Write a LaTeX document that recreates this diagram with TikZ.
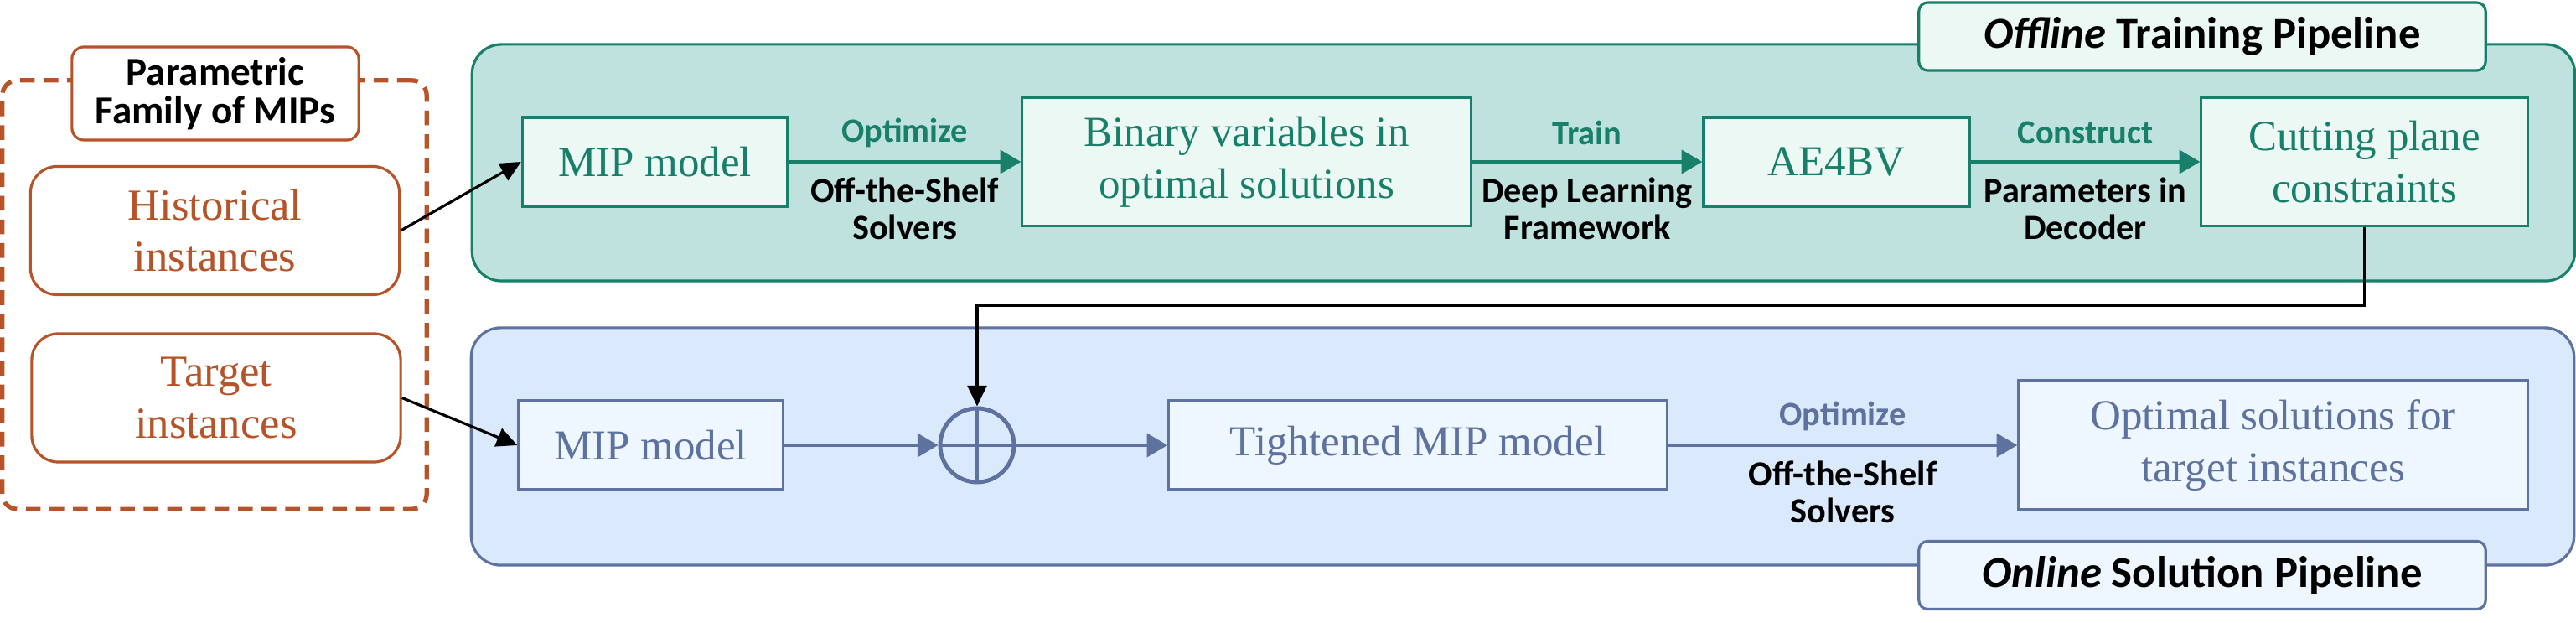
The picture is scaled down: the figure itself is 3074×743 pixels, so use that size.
\documentclass[tikz,border=0pt]{standalone}
\usepackage{fontspec}
\setmainfont{Liberation Serif}
\setsansfont{Carlito}
\usetikzlibrary{arrows.meta}
\definecolor{tealline}{RGB}{24,128,106}
\definecolor{tealback}{RGB}{192,226,222}
\definecolor{tealinner}{RGB}{236,248,244}
\definecolor{blueline}{RGB}{93,114,158}
\definecolor{blueback}{RGB}{218,234,252}
\definecolor{blueinner}{RGB}{238,247,255}
\definecolor{famcol}{RGB}{183,83,40}
\begin{document}
\begin{tikzpicture}[x=0.01cm, y=-0.01cm, line width=0.9pt,
  panel/.style = {rounded corners=10pt, inner sep=0pt},
  tbox/.style = {draw=tealline, fill=tealinner, text=tealline, align=center, inner sep=0pt, font=\fontsize{14.5}{17.6}\selectfont},
  bbox/.style = {draw=blueline, fill=blueinner, text=blueline, align=center, inner sep=0pt, font=\fontsize{14.5}{17.6}\selectfont},
  famitem/.style = {draw=famcol, fill=white, text=famcol, rounded corners=9pt, align=center, inner sep=0pt, minimum width=4.4cm, minimum height=1.53cm, font=\fontsize{15}{17.6}\selectfont},
  ptitle/.style = {rounded corners=3pt, inner sep=0pt, minimum width=6.76cm, minimum height=0.81cm, font=\sffamily\bfseries\fontsize{15}{17}\selectfont},
  toplab/.style = {font=\sffamily\bfseries\fontsize{11.5}{12.5}\selectfont, yshift=0.35cm},
  botlab/.style = {font=\sffamily\bfseries\fontsize{12}{12.6}\selectfont, align=center, text=black, yshift=-0.56cm},
  tarrow/.style = {draw=tealline, -{Triangle[length=7pt,width=8pt]}},
  barrow/.style = {draw=blueline, -{Triangle[length=7pt,width=8pt]}},
  karrow/.style = {draw=black, -{Triangle[length=7pt,width=6.5pt]}}]
  \useasboundingbox (0,0) rectangle (3074,743);
  \node[panel, draw=tealline, fill=tealback, minimum width=25.08cm, minimum height=2.82cm] (trainpanel) at (1818,194) {};
  \node[panel, draw=blueline, fill=blueback, minimum width=25.08cm, minimum height=2.83cm] (solvepanel) at (1817,532.5) {};
  \node[draw=famcol, dash pattern=on 5pt off 3pt, line width=1.5pt, rounded corners=5pt, minimum width=5.06cm, minimum height=5.11cm] (family) at (256,351.5) {};
  \node[draw=famcol, fill=white, rounded corners=4pt, minimum width=3.42cm, minimum height=1.11cm, align=center, inner sep=0pt, font=\sffamily\bfseries\fontsize{13.4}{13.2}\selectfont] (famtitle) at (257,111.5) {Parametric\\Family of MIPs};
  \node[famitem] (hist) at (256.5,275) {Historical\\instances};
  \node[famitem] (targ) at (258,474.5) {Target\\instances};
  \node[ptitle, draw=tealline, fill=tealinner] (offtitle) at (2628,43.5) {\textit{Offline} Training Pipeline};
  \node[ptitle, draw=blueline, fill=blueinner] (ontitle) at (2628,686) {\textit{Online} Solution Pipeline};
  \node[tbox, minimum width=3.16cm, minimum height=1.06cm] (mip1) at (781.5,193) {MIP model};
  \node[tbox, minimum width=5.35cm, minimum height=1.53cm] (bin) at (1487.5,193) {Binary variables in\\optimal solutions};
  \node[tbox, minimum width=3.17cm, minimum height=1.06cm] (ae) at (2191.5,193) {AE4BV};
  \node[tbox, minimum width=3.89cm, minimum height=1.53cm] (cut) at (2821.5,193) {Cutting plane\\constraints};
  \node[bbox, minimum width=3.15cm, minimum height=1.06cm] (mip2) at (776.5,531) {MIP model};
  \node[draw=blueline, line width=1.4pt, circle, minimum size=0.88cm, inner sep=0pt] (plus) at (1166,531) {};
  \node[bbox, minimum width=5.94cm, minimum height=1.06cm] (tight) at (1692,531) {Tightened MIP model};
  \node[bbox, minimum width=6.07cm, minimum height=1.54cm] (opt) at (2712.5,531) {Optimal solutions for\\target instances};
  \draw[blueline] (plus.north) -- (plus.south) (plus.west) -- (plus.east);
  \draw[karrow] (hist.east) -- (mip1.west);
  \draw[karrow] (targ.east) -- (mip2.west);
  \draw[tarrow] (mip1) -- node[toplab, text=tealline] (lopt1) {Optimize} node[botlab] (lsolv1) {Off-the-Shelf\\Solvers} (bin);
  \draw[tarrow] (bin) -- node[toplab, text=tealline] (ltrain) {Train} node[botlab] (ldeep) {Deep Learning\\Framework} (ae);
  \draw[tarrow] (ae) -- node[toplab, text=tealline] (lcons) {Construct} node[botlab] (lpar) {Parameters in\\Decoder} (cut);
  \draw[karrow] (cut.south) -- ++(0,93) -| (plus.north);
  \draw[barrow] (mip2) -- (plus);
  \draw[barrow] (plus) -- (tight);
  \draw[barrow] (tight) -- node[toplab, text=blueline] (lopt2) {Optimize} node[botlab] (lsolv2) {Off-the-Shelf\\Solvers} (opt);
\end{tikzpicture}
\end{document}
